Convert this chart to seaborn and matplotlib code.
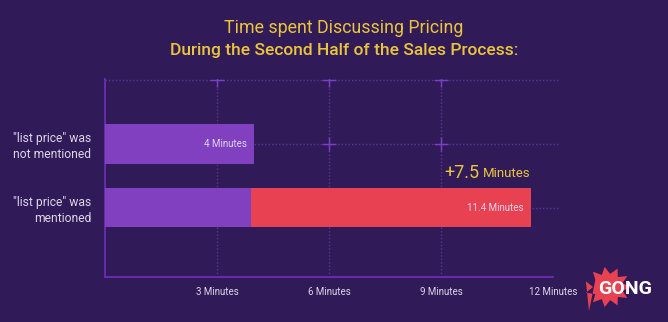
import matplotlib
matplotlib.use("Agg")
import matplotlib.pyplot as plt
import seaborn as sns
import numpy as np
from matplotlib.patches import Polygon

# Data
categories = ['"list price" was\nnot mentioned', '"list price" was\nmentioned']
base_minutes = [4.0, 3.9]
total_minutes = [4.0, 11.4]
bar_labels = ["4 Minutes", "11.4 Minutes"]
xticks = [3, 6, 9, 12]
xtick_labels = ["3 Minutes", "6 Minutes", "9 Minutes", "12 Minutes"]

BG = "#311a58"
PURPLE = "#8040c0"
RED = "#e84252"
YELLOW = "#e9c53c"
GRID = "#5b3599"
SPINE = "#6c2cb4"
TEXT = "#ddd6ea"

sns.set_theme(style="white")
plt.rcParams["font.family"] = ["Roboto", "DejaVu Sans"]

fig = plt.figure(figsize=(6.68, 3.22), dpi=100, facecolor=BG)
ax = fig.add_axes([105 / 668, 1 - 277 / 322, 448 / 668, 198 / 322])
ax.set_facecolor(BG)

# Dotted grid with plus marks at the crossings
for xv in [3, 6, 9]:
    ax.axvline(xv, color=GRID, lw=1.0, ls=(0, (1, 1.5)), zorder=0)
for yv in [-1, 0, 1]:
    ax.plot([0, 12.2], [yv, yv], color=GRID, lw=1.0, ls=(0, (1, 1.5)), zorder=0, clip_on=False)
gx, gy = np.meshgrid([3, 6, 9], [-1, 0, 1])
ax.scatter(gx.ravel(), gy.ravel(), marker="+", s=90, color="#7a40c4", lw=1.0, zorder=1)

# Stacked bars: totals first, then the base portion on top
sns.barplot(x=total_minutes, y=[0, 1], hue=categories, palette=[PURPLE, RED],
            orient="h", width=0.62, legend=False, ax=ax, native_scale=True,
            saturation=1, zorder=2, linewidth=0)
sns.barplot(x=base_minutes, y=[0, 1], color=PURPLE, orient="h", width=0.62,
            ax=ax, native_scale=True, saturation=1, zorder=3, linewidth=0)

# Value labels inside the bar ends
for i, (t, lab) in enumerate(zip(total_minutes, bar_labels)):
    ax.text(t - 0.2, i, lab, ha="right", va="center", color=TEXT, fontsize=7, zorder=5)

# Difference annotation
diff = total_minutes[1] - base_minutes[1]
ax.text(total_minutes[1] - 1.37, 0.46, f"+{diff:.1f}", ha="right", va="center",
        color=YELLOW, fontsize=13, zorder=5)
ax.text(total_minutes[1] - 1.27, 0.47, "Minutes", ha="left", va="center",
        color=YELLOW, fontsize=9.5, zorder=5)

ax.set_xlim(0, 12)
ax.set_ylim(2.09, -1.02)
ax.set_yticks([0, 1])
ax.set_yticklabels(categories, color=TEXT, fontsize=8.7, linespacing=1.25)
ax.set_xticks(xticks)
ax.set_xticklabels(xtick_labels, color=TEXT, fontsize=7)
ax.tick_params(axis="both", length=0)
ax.tick_params(axis="y", pad=10)
ax.tick_params(axis="x", pad=7)
ax.set_xlabel("")
ax.set_ylabel("")
for side in ["top", "right"]:
    ax.spines[side].set_visible(False)
for side in ["left", "bottom"]:
    ax.spines[side].set_color(SPINE)
    ax.spines[side].set_linewidth(1.3)

# Titles
fig.text(344 / 668, 1 - 28 / 322, "Time spent Discussing Pricing", ha="center", va="center",
         color=YELLOW, fontsize=12.8, fontweight="normal")
fig.text(344 / 668, 1 - 50 / 322, "During the Second Half of the Sales Process:", ha="center",
         va="center", color=YELLOW, fontsize=12.5, fontweight="medium")

# Logo: starburst speech bubble with wordmark
cx, cy = 608, 287
n = 22
ang = np.linspace(0, 2 * np.pi, n, endpoint=False)
rad = np.where(np.arange(n) % 2 == 0, 23, 15)
pts = [(cx + r * np.cos(a), cy + 0.88 * r * np.sin(a)) for a, r in zip(ang, rad)]
pts.insert(int(n * 0.62), (589, 311))
fig_pts = [(px / 668, 1 - py / 322) for px, py in pts]
fig.patches.append(Polygon(fig_pts, closed=True, transform=fig.transFigure,
                           facecolor=RED, edgecolor="none"))
fig.text(625 / 668, 1 - 289 / 322, "GONG", ha="center", va="center", color="white",
         fontsize=14, fontweight="bold")

fig.savefig("out.png", dpi=100, facecolor=BG)
